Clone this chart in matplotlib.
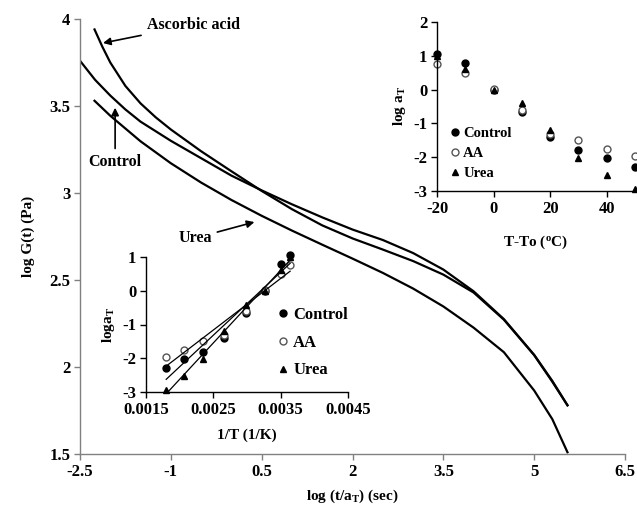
import numpy as np
import matplotlib
matplotlib.use("Agg")
import matplotlib.pyplot as plt
import matplotlib.ticker as ticker

plt.rcParams['font.family'] = ['Liberation Serif', 'DejaVu Serif']
plt.rcParams['font.weight'] = 'bold'
plt.rcParams['axes.unicode_minus'] = False
plt.rcParams['mathtext.fontset'] = 'custom'
plt.rcParams['mathtext.rm'] = 'Liberation Serif:bold'
plt.rcParams['mathtext.bf'] = 'Liberation Serif:bold'
plt.rcParams['mathtext.it'] = 'Liberation Serif:bold'

# master curves, log G(t) vs log(t/aT)
x_aa = [-2.26, -2.13, -2.0, -1.75, -1.5, -1.25, -1.0, -0.5, 0, 0.5, 1.0,
        1.5, 2.0, 2.5, 3.0, 3.5, 4.0, 4.5, 5.0, 5.3, 5.55]
y_aa = [3.94, 3.84, 3.75, 3.615, 3.515, 3.435, 3.365, 3.24, 3.125, 3.012, 2.907,
        2.814, 2.739, 2.675, 2.609, 2.531, 2.428, 2.272, 2.068, 1.915, 1.78]

x_ctl = [-2.5, -2.25, -2.0, -1.75, -1.5, -1.0, -0.5, 0, 0.5, 1.0, 1.5,
         2.0, 2.5, 3.0, 3.5, 4.0, 4.5, 5.0, 5.3, 5.55]
y_ctl = [3.76, 3.65, 3.56, 3.48, 3.41, 3.30, 3.20, 3.10, 3.015, 2.935, 2.86,
         2.79, 2.73, 2.655, 2.56, 2.435, 2.275, 2.07, 1.92, 1.78]

x_urea = [-2.26, -2.0, -1.5, -1.0, -0.5, 0, 0.5, 1.0, 1.5, 2.0, 2.5,
          3.0, 3.5, 4.0, 4.5, 5.0, 5.3, 5.55]
y_urea = [3.53, 3.444, 3.297, 3.171, 3.06, 2.96, 2.869, 2.784, 2.703, 2.623, 2.541,
          2.451, 2.348, 2.226, 2.085, 1.865, 1.70, 1.51]

# shift factors
t_diff = [-20, -10, 0, 10, 20, 30, 40, 50]
inv_t = [0.00364, 0.00351, 0.00327, 0.00298, 0.00266, 0.00235, 0.00206, 0.00180]
at_ctl = [1.06, 0.80, 0.0, -0.65, -1.40, -1.80, -2.01, -2.30]
at_aa = [0.76, 0.50, 0.03, -0.59, -1.32, -1.48, -1.77, -1.97]
at_urea = [1.0, 0.61, 0.0, -0.41, -1.20, -2.02, -2.52, -2.94]

W, H = 637, 505
fig = plt.figure(figsize=(W / 100, H / 100), dpi=100)

def px_axes(l, t, r, b):
    return fig.add_axes([l / W, 1 - b / H, (r - l) / W, (b - t) / H])

def style_axes(ax, col, size):
    for s in ['top', 'right']:
        ax.spines[s].set_visible(False)
    for s in ['left', 'bottom']:
        ax.spines[s].set_color(col)
        ax.spines[s].set_linewidth(1.0)
    ax.tick_params(direction='out', length=4, width=1, color=col,
                   labelsize=size, pad=3)

# main plot
ax = px_axes(80, 19, 625, 454)
ax.plot(x_aa, y_aa, color='black', lw=1.6)
ax.plot(x_ctl, y_ctl, color='black', lw=1.6)
ax.plot(x_urea, y_urea, color='black', lw=1.6)
ax.set_xlim(-2.5, 6.5)
ax.set_ylim(1.5, 4)
ax.set_xticks([-2.5, -1, 0.5, 2, 3.5, 5, 6.5])
ax.set_yticks([1.5, 2, 2.5, 3, 3.5, 4])
ax.xaxis.set_major_formatter(ticker.FuncFormatter(lambda v, p: '%g' % v))
ax.yaxis.set_major_formatter(ticker.FuncFormatter(lambda v, p: '%g' % v))
style_axes(ax, '#808080', 12)
ax.set_xlabel('log (t/a$_\\mathrm{T}$) (sec)', fontsize=11, fontweight='bold', labelpad=6)
ax.set_ylabel('log G(t) (Pa)', fontsize=11, fontweight='bold', labelpad=10)

arrow = dict(arrowstyle='-|>', color='black', lw=1.2, mutation_scale=11, shrinkA=2, shrinkB=0)
ax.annotate('Ascorbic acid', xy=(-2.12, 3.862), xytext=(-1.40, 3.966),
            fontsize=11.5, fontweight='bold', ha='left', va='center', arrowprops=arrow)
ax.annotate('Control', xy=(-1.92, 3.49), xytext=(-1.92, 3.178),
            fontsize=11.5, fontweight='bold', ha='center', va='center', arrowprops=arrow)
ax.annotate('Urea', xy=(0.38, 2.833), xytext=(-0.60, 2.741),
            fontsize=11.5, fontweight='bold', ha='center', va='center', arrowprops=arrow)

mk = dict(ls='none', markersize=5, clip_on=False)

# inset: log aT vs T-To
ax1 = px_axes(437, 22, 635, 191)
ax1.set_facecolor('none')
ax1.plot(t_diff, at_ctl, marker='o', color='black', label='Control', **mk)
ax1.plot(t_diff, at_aa, marker='o', mfc='white', mec='#555555', label='AA', **mk)
ax1.plot(t_diff, at_urea, marker='^', color='black', label='Urea', **mk)
ax1.set_xlim(-20, 50)
ax1.set_ylim(-3, 2)
ax1.set_xticks([-20, 0, 20, 40])
ax1.set_yticks([-3, -2, -1, 0, 1, 2])
style_axes(ax1, 'black', 12)
ax1.set_xlabel('T-To ($^\\mathrm{o}$C)', fontsize=11, fontweight='bold', labelpad=12)
ax1.set_ylabel('log a$_\\mathrm{T}$', fontsize=11, fontweight='bold', labelpad=4)
ax1.legend(loc='upper left', bbox_to_anchor=(0.0, 0.455), frameon=False,
           handlelength=0.6, handletextpad=0.3, labelspacing=0.45,
           prop={'weight': 'bold', 'size': 10.5})

# inset: log aT vs 1/T with linear trend lines
ax2 = px_axes(146, 257, 348, 392)
ax2.set_facecolor('none')
ax2.plot(inv_t, at_ctl, marker='o', color='black', label='Control', **mk)
ax2.plot(inv_t, at_aa, marker='o', mfc='white', mec='#555555', label='AA', **mk)
ax2.plot(inv_t, at_urea, marker='^', color='black', label='Urea', **mk)
xs = np.array([min(inv_t), max(inv_t)])
for vals in [at_ctl, at_aa, at_urea]:
    k, c = np.polyfit(inv_t, vals, 1)
    ax2.plot(xs, k * xs + c, color='black', lw=0.9)
ax2.set_xlim(0.0015, 0.0045)
ax2.set_ylim(-3, 1)
ax2.set_xticks([0.0015, 0.0025, 0.0035, 0.0045])
ax2.set_yticks([-3, -2, -1, 0, 1])
ax2.xaxis.set_major_formatter(ticker.FormatStrFormatter('%.4f'))
style_axes(ax2, 'black', 12)
ax2.set_xlabel('1/T (1/K)', fontsize=11, fontweight='bold', labelpad=8)
ax2.set_ylabel('loga$_\\mathrm{T}$', fontsize=11, fontweight='bold', labelpad=4)
ax2.legend(loc='upper left', bbox_to_anchor=(0.58, 0.74), frameon=False,
           handlelength=0.6, handletextpad=0.3, labelspacing=0.7,
           prop={'weight': 'bold', 'size': 12})

fig.savefig('out.png', dpi=100)
